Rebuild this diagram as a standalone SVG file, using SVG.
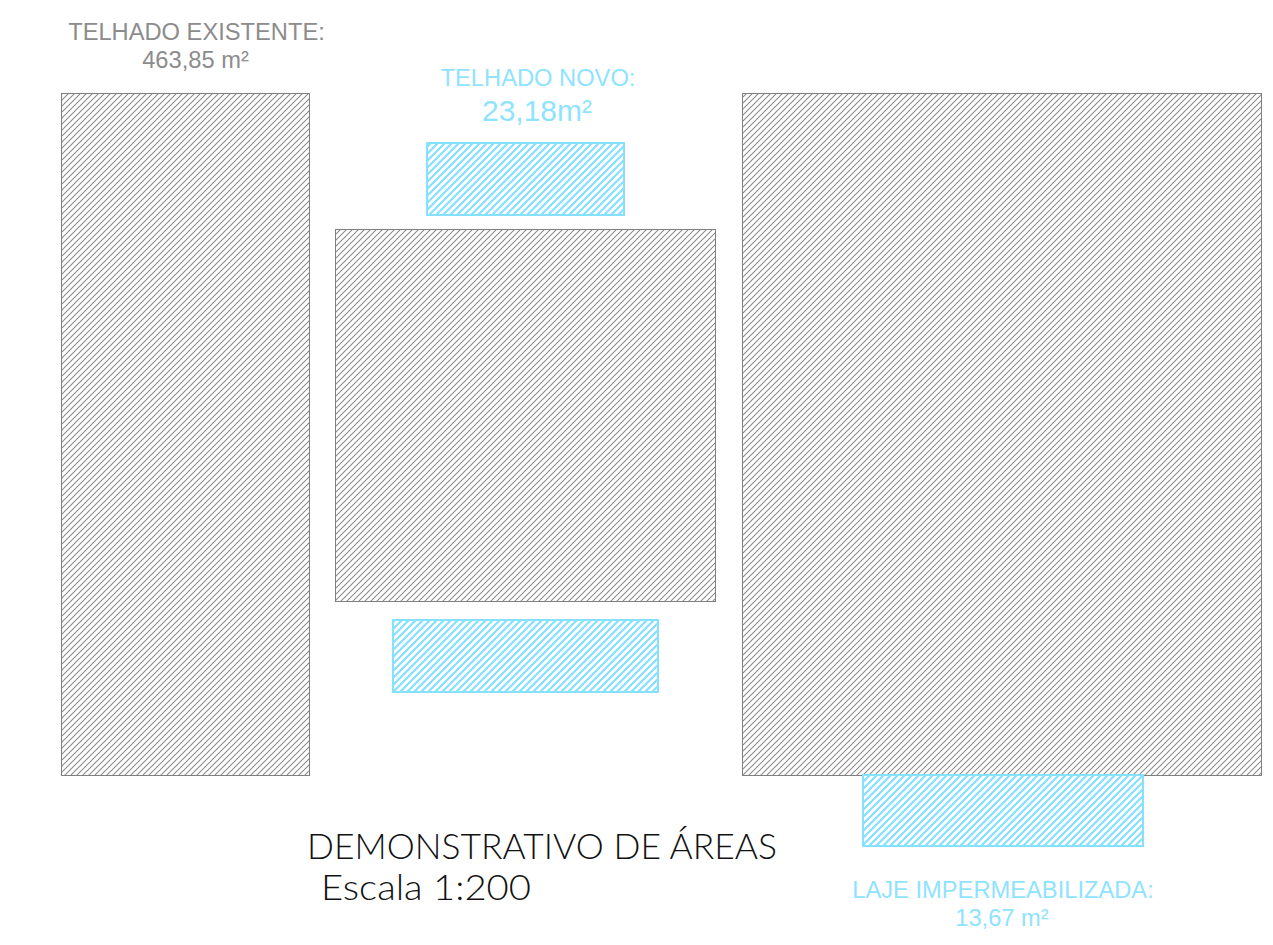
<svg xmlns="http://www.w3.org/2000/svg" width="1273" height="945" viewBox="0 0 1273 945">
<style>
.lbl{font-family:"Liberation Sans",Arial,sans-serif}
.grey{fill:#8c8c8c}
.blue{fill:#8fe3ff}
.title{font-family:"Lato","Liberation Sans",sans-serif;font-weight:300;fill:#111}
.g{fill:url(#hg);stroke:#808080;stroke-width:1}
.b{fill:url(#hb);stroke:#86e0ff;stroke-width:2}
</style>
<defs>
<pattern id="hg" patternUnits="userSpaceOnUse" width="6" height="6">
<path d="M-1 1L1 -1M0 6L6 0M5 7L7 5" stroke="#8a8a8a" stroke-width="1.05" fill="none"/>
</pattern>
<pattern id="hb" patternUnits="userSpaceOnUse" width="7" height="7">
<path d="M-1 1L1 -1M0 7L7 0M6 8L8 6" stroke="#86e0ff" stroke-width="2.2" fill="none"/>
</pattern>
</defs>
<rect width="1273" height="945" fill="#fff"/>
<g id="existente-esquerda"><rect class="g" x="61.500" y="93.500" width="248" height="682"/></g>
<g id="existente-centro"><rect class="g" x="335.500" y="229.500" width="380" height="372"/></g>
<g id="existente-direita"><rect class="g" x="742.500" y="93.500" width="519" height="682"/></g>
<g id="novo-superior"><rect class="b" x="427" y="143" width="197" height="72"/></g>
<g id="novo-inferior"><rect class="b" x="393" y="620" width="265" height="72"/></g>
<g id="laje"><rect class="b" x="863" y="775" width="280" height="71"/></g>
<g id="textos">
<text class="lbl grey" x="196.500" y="40" font-size="23.7" text-anchor="middle">TELHADO EXISTENTE:</text>
<text class="lbl grey" x="195.500" y="68" font-size="23.7" text-anchor="middle">463,85 m²</text>
<text class="lbl blue" x="538" y="86" font-size="23.7" text-anchor="middle">TELHADO NOVO:</text>
<text class="lbl blue" x="537" y="121" font-size="30" text-anchor="middle">23,18m²</text>
<text class="lbl blue" x="1003" y="898" font-size="23.7" text-anchor="middle">LAJE IMPERMEABILIZADA:</text>
<text class="lbl blue" x="1002" y="926" font-size="23.7" text-anchor="middle">13,67 m²</text>
<text class="title" x="307" y="859" font-size="35" textLength="470" lengthAdjust="spacingAndGlyphs">DEMONSTRATIVO DE ÁREAS</text>
<text class="title" x="321" y="900" font-size="35" textLength="210" lengthAdjust="spacingAndGlyphs">Escala 1:200</text>
</g>
</svg>
